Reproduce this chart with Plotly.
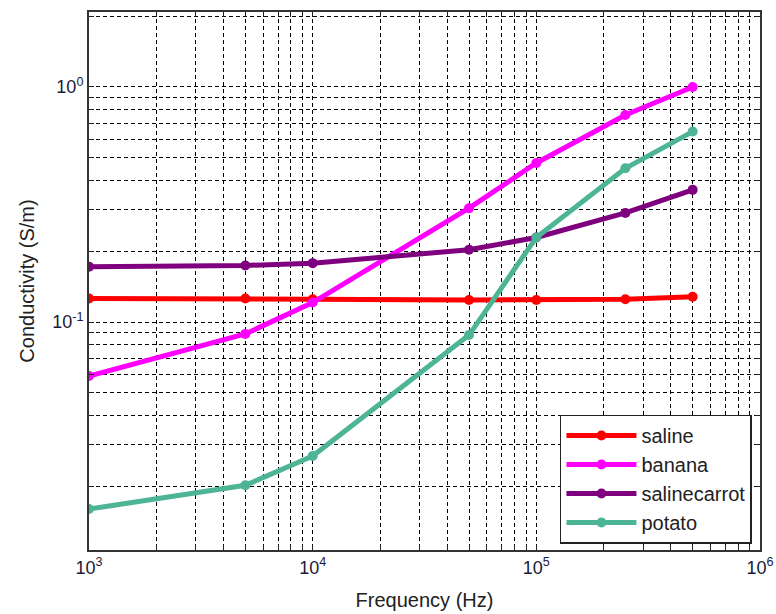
import plotly.graph_objects as go

# Measurement frequencies (Hz)
frequency = [1e3, 5e3, 1e4, 5e4, 1e5, 2.5e5, 5e5]

# Conductivity (S/m) per sample
saline = [0.126, 0.126, 0.125, 0.124, 0.124, 0.125, 0.128]
banana = [0.0589, 0.089, 0.121, 0.305, 0.475, 0.76, 1.0]
salinecarrot = [0.172, 0.174, 0.178, 0.203, 0.229, 0.291, 0.365]
potato = [0.016, 0.0202, 0.0269, 0.088, 0.229, 0.451, 0.646]

series = [
    ("saline", saline, "#FF0000"),
    ("banana", banana, "#FF00FF"),
    ("salinecarrot", salinecarrot, "#7F007F"),
    ("potato", potato, "#4DB596"),
]

# Log-axis grid positions (every 1..9 x 10^n) with labels only at the decades
x_grid = [m * 10 ** e for e in (3, 4, 5) for m in range(1, 10)] + [1e6]
x_text = [("10<sup>%d</sup>" % e) if m == 1 else "" for e in (3, 4, 5) for m in range(1, 10)] + ["10<sup>6</sup>"]
y_grid = [m * 1e-2 for m in range(2, 10)] + [m * 1e-1 for m in range(1, 10)] + [1, 2]
y_text = [""] * 8 + ["10<sup>-1</sup>"] + [""] * 8 + ["10<sup>0</sup>", ""]

FONT = "Liberation Sans, Arial, sans-serif"

fig = go.Figure()
for name, vals, color in series:
    fig.add_trace(go.Scatter(
        x=frequency, y=vals, name=name, mode="lines+markers",
        line=dict(color=color, width=5),
        marker=dict(color=color, size=10, symbol="circle"),
    ))

axis_common = dict(
    type="log", automargin=False,
    showgrid=True, gridcolor="#000000", gridwidth=1, griddash="4px,3px",
    showline=True, linecolor="#333333", linewidth=2, mirror="allticks",
    ticks="inside", ticklen=5, tickcolor="#222222", tickwidth=1,
    zeroline=False,
    tickfont=dict(family=FONT, size=18, color="#1a1a3a"),
    title_font=dict(family=FONT, size=20, color="#222222"),
)

fig.update_xaxes(
    **axis_common,
    range=[3, 6],
    tickmode="array", tickvals=x_grid, ticktext=x_text,
    title_text="Frequency (Hz)", title_standoff=16,
)
fig.update_yaxes(
    **axis_common,
    range=[-1.97, 0.319],
    tickmode="array", tickvals=y_grid, ticktext=y_text,
    title_text="Conductivity (S/m)", title_standoff=12,
)

fig.update_layout(
    width=776, height=614,
    margin=dict(l=89, r=16, t=12, b=64),
    paper_bgcolor="white", plot_bgcolor="white",
    legend=dict(
        x=0.988, y=0.012, xanchor="right", yanchor="bottom",
        bgcolor="white", bordercolor="#222222", borderwidth=1.5,
        font=dict(family=FONT, size=20, color="#222222"),
        itemwidth=70,
    ),
)

fig.write_html("out.html")
